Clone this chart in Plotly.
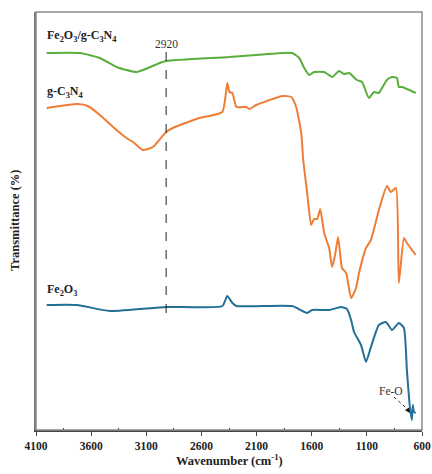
import plotly.graph_objects as go

# FTIR spectra (arbitrary transmittance units, offset stacked)
wn_comp = [4003, 3702, 3521, 3370, 3187, 2979, 2920, 2346, 1867, 1777, 1713, 1668, 1622, 1578,
           1487, 1415, 1352, 1307, 1262, 1190, 1144, 1081, 1036, 991, 963, 918, 872, 827, 810, 780, 657]
t_comp = [377, 377, 372, 363, 358, 367, 369, 373, 377, 377, 372, 362, 355, 358,
          358, 353, 359, 356, 357, 350, 348, 332, 338, 337, 342, 350, 353, 352, 343, 343, 337]

wn_gcn = [4003, 3720, 3630, 3521, 3370, 3280, 3220, 3130, 3040, 2920, 2860, 2620, 2410, 2366, 2346,
          2319, 2283, 2193, 2165, 2102, 1867, 1786, 1741, 1695, 1677, 1641, 1605, 1578, 1550, 1523,
          1487, 1442, 1415, 1388, 1361, 1325, 1288, 1243, 1198, 1171, 1108, 1063, 991, 918, 882,
          836, 810, 764, 737, 657]
t_gcn = [322, 326, 324, 315, 300, 292, 288, 280, 283, 298, 302, 312, 318, 347, 338,
         337, 323, 323, 321, 325, 334, 333, 323, 297, 270, 237, 205, 211, 211, 221,
         197, 182, 163, 175, 193, 162, 157, 132, 142, 157, 182, 190, 220, 244, 238,
         242, 147, 192, 187, 175]

wn_fe = [4003, 3730, 3430, 2920, 2410, 2366, 2319, 2283, 1777, 1641, 1596, 1442, 1334, 1280, 1243,
         1216, 1153, 1108, 1063, 991, 927, 872, 810, 764, 737, 710, 692, 683, 673, 657]
t_fe = [125, 125, 119, 123, 124, 134, 127, 124, 124, 117, 120, 120, 123, 121, 110,
        98, 85, 68, 83, 105, 108, 100, 107, 102, 60, 23, 10, 25, 18, 17]

x_ticks = [4100, 3600, 3100, 2600, 2100, 1600, 1100, 600]

FONT = "Liberation Serif"

fig = go.Figure()
for wn, t, col in [(wn_comp, t_comp, "#5aae3c"), (wn_gcn, t_gcn, "#ee7d35"), (wn_fe, t_fe, "#236f95")]:
    fig.add_trace(go.Scatter(x=wn, y=t, mode="lines", line=dict(color=col, width=2, shape="spline", smoothing=0.5),
                             showlegend=False, hoverinfo="skip"))

# frame
fig.add_shape(type="rect", xref="paper", yref="paper", x0=0, x1=1, y0=0, y1=1,
              line=dict(color="#8a8a8a", width=1.5))
# 2920 dashed marker
fig.add_shape(type="line", xref="x", yref="y", x0=2920, x1=2920, y0=117, y1=378,
              line=dict(color="#222", width=1, dash="dash"))
# Fe-O dotted arrow
fig.add_shape(type="line", xref="x", yref="y", x0=855, x1=722, y0=33, y1=20,
              line=dict(color="#222", width=1, dash="dot"))

lab = dict(family=FONT, size=12, color="#222")
lab_thin = dict(family=FONT, size=11.5, color="#333")
anns = [
    dict(x=4019, y=394, text="<b>Fe<sub>2</sub>O<sub>3</sub>/g-C<sub>3</sub>N<sub>4</sub></b>", xanchor="left", font=lab),
    dict(x=4019, y=338, text="<b>g-C<sub>3</sub>N<sub>4</sub></b>", xanchor="left", font=lab),
    dict(x=4019, y=140, text="<b>Fe<sub>2</sub>O<sub>3</sub></b>", xanchor="left", font=lab),
    dict(x=2920, y=386, text="2920", xanchor="center", font=lab_thin),
    dict(x=880, y=39, text="Fe-O", xanchor="center", font=lab_thin),
]
for a in anns:
    fig.add_annotation(xref="x", yref="y", showarrow=False, yanchor="middle", **a)
fig.add_annotation(xref="x", yref="y", x=710, y=17, ax=740, ay=22, axref="x", ayref="y", text="",
                   showarrow=True, arrowhead=2, arrowsize=1, arrowwidth=1, arrowcolor="#111")

title_font = dict(family=FONT, size=12.5, color="#222")
fig.add_annotation(xref="paper", yref="paper", x=0.5, y=0, yshift=-30, showarrow=False,
                   text="<b>Wavenumber (cm<sup>-1</sup>)</b>", font=title_font, yanchor="middle")
fig.add_annotation(xref="paper", yref="paper", x=0, y=0.5, xshift=-21, showarrow=False,
                   text="<b>Transmittance (%)</b>", font=title_font, textangle=-90, xanchor="center")

fig.update_layout(
    width=432, height=474, autosize=False, margin=dict(l=36, r=10, t=12, b=44, pad=0, autoexpand=False),
    paper_bgcolor="white", plot_bgcolor="white",
    xaxis=dict(range=[4100, 600], tickmode="array", tickvals=x_ticks, ticktext=[f"<b>{v}</b>" for v in x_ticks],
               automargin=False,
               showgrid=False, zeroline=False, showline=True, linecolor="#444", linewidth=1.5,
               ticks="outside", ticklen=4, tickcolor="#444", tickwidth=1,
               minor=dict(tickmode="array", tickvals=[3850, 3350, 2850, 2350, 1850, 1350, 850],
                          ticks="inside", ticklen=2, tickcolor="#444"),
               tickfont=dict(family=FONT, size=11.5, color="#222")),
    yaxis=dict(range=[0, 418], showticklabels=False, showgrid=False, zeroline=False, automargin=False,
               showline=True, linecolor="#777", linewidth=1.5, ticks=""),
)
fig.write_html("out.html")
